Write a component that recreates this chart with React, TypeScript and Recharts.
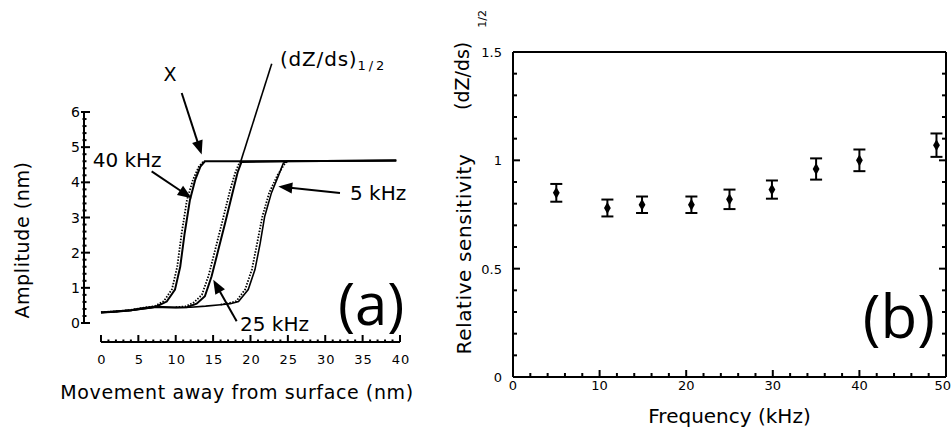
import React from 'react';
import {
  ComposedChart, Line, Scatter, XAxis, YAxis, ZAxis, ErrorBar,
  ReferenceLine, ReferenceDot,
} from 'recharts';

const FONT = '"DejaVu Sans", Verdana, sans-serif';

// ---------- Panel (a): amplitude vs movement ----------
const aXTicks = [0, 1, 2, 3, 4, 5, 6, 7, 8, 9, 10, 11, 12, 13, 14, 15, 16, 17, 18, 19, 20,
  21, 22, 23, 24, 25, 26, 27, 28, 29, 30, 31, 32, 33, 34, 35, 36, 37, 38, 39, 40];
const aXLabels = [0, 5, 10, 15, 20, 25, 30, 35, 40];
const aYTicks = [0, 0.2, 0.4, 0.6, 0.8, 1, 1.2, 1.4, 1.6, 1.8, 2, 2.2, 2.4, 2.6, 2.8, 3,
  3.2, 3.4, 3.6, 3.8, 4, 4.2, 4.4, 4.6, 4.8, 5, 5.2, 5.4, 5.6, 5.8, 6];
const aYLabels = [0, 1, 2, 3, 4, 5, 6];
const A_XMIN = -2.27;
const A_YMIN = -0.54;

const f40SolidX = [0, 2, 4, 5.5, 7.4, 8.8, 9.9, 10.6, 11.2, 11.9, 12.6, 13.3, 13.9, 20, 30, 39.5];
const f40SolidY = [0.3, 0.32, 0.36, 0.42, 0.47, 0.61, 0.95, 1.6, 2.56, 3.5, 4.07, 4.45, 4.6, 4.6, 4.61, 4.62];
const f40DotX = [0, 2, 4, 5.5, 7.2, 8.4, 9.5, 10.2, 10.8, 11.5, 12.3, 13.1, 13.8];
const f40DotY = [0.31, 0.33, 0.37, 0.43, 0.48, 0.62, 0.96, 1.6, 2.56, 3.5, 4.07, 4.45, 4.62];

const f25SolidX = [0, 4, 7.4, 10, 11.5, 12.8, 13.9, 14.8, 15.7, 16.6, 17.7, 18.3, 18.8, 25, 39.5];
const f25SolidY = [0.3, 0.36, 0.46, 0.44, 0.45, 0.55, 0.76, 1.33, 2.08, 2.84, 3.79, 4.3, 4.58, 4.6, 4.62];
const f25DotX = [10, 11.3, 12.4, 13.5, 14.4, 15.3, 16.2, 17.3, 18.0, 18.6];
const f25DotY = [0.45, 0.47, 0.58, 0.8, 1.35, 2.1, 2.86, 3.8, 4.3, 4.6];

const f5SolidX = [0, 4, 7.4, 10, 12, 14, 16, 17.3, 18.4, 19.7, 20.6, 21.3, 21.9, 22.8, 23.7, 24.4, 25, 39.5];
const f5SolidY = [0.3, 0.36, 0.45, 0.44, 0.45, 0.48, 0.52, 0.55, 0.61, 0.95, 1.52, 2.27, 3.03, 3.7, 4.17, 4.55, 4.6, 4.62];
const f5DotX = [16, 17.1, 18.1, 19.3, 20.2, 20.9, 21.6, 22.5, 23.6, 24.5, 24.9];
const f5DotY = [0.52, 0.56, 0.62, 0.96, 1.53, 2.28, 3.04, 3.7, 4.2, 4.5, 4.6];

// ---------- Panel (b): relative sensitivity vs frequency ----------
const bFreq = [5, 10.9, 14.9, 20.6, 25, 29.9, 35, 40, 48.9];
const bSens = [0.85, 0.78, 0.795, 0.795, 0.82, 0.865, 0.96, 1.0, 1.07];
const bErr = [0.041, 0.039, 0.038, 0.038, 0.045, 0.042, 0.049, 0.05, 0.054];
const bXTicks = [0, 2, 4, 6, 8, 10, 12, 14, 16, 18, 20, 22, 24, 26, 28, 30, 32, 34, 36, 38, 40,
  42, 44, 46, 48, 50];
const bXLabels = [0, 10, 20, 30, 40, 50];
const bYTicks = [0, 0.1, 0.2, 0.3, 0.4, 0.5, 0.6, 0.7, 0.8, 0.9, 1, 1.1, 1.2, 1.3, 1.4, 1.5];
const bYLabels = [0, 0.5, 1, 1.5];

const toPts = (xs: number[], ys: number[]) => xs.map((x, i) => ({ x, y: ys[i] }));
const bData = bFreq.map((f, i) => ({ f, s: bSens[i], e: bErr[i] }));

// ---------- tick renderers ----------
const TickAX = (p: any) => {
  const v = p.payload.value;
  const major = aXLabels.includes(v);
  return (
    <g>
      <line x1={p.x} x2={p.x} y1={p.y} y2={p.y - (major ? 7 : 2.5)} stroke="#000" strokeWidth={2} />
      {major && (
        <text x={p.x + 1} y={p.y + 22} textAnchor="middle" fontSize={13} letterSpacing={1}
          fontFamily={FONT} fill="#000">{v}</text>
      )}
    </g>
  );
};
const TickAY = (p: any) => {
  const v = p.payload.value;
  const major = aYLabels.includes(v);
  return (
    <g>
      <line x1={p.x - (major ? 3 : 1.5)} x2={p.x + (major ? 6 : 2.5)} y1={p.y} y2={p.y}
        stroke="#000" strokeWidth={2} />
      {major && (
        <text x={p.x - 4} y={p.y + 5} textAnchor="end" fontSize={14} fontFamily={FONT} fill="#000">{v}</text>
      )}
    </g>
  );
};
const TickBX = (p: any) => {
  const v = p.payload.value;
  const major = bXLabels.includes(v);
  const last = v === bXLabels[bXLabels.length - 1];
  return (
    <g>
      <line x1={p.x} x2={p.x} y1={p.y} y2={p.y - (major ? 7 : 4)} stroke="#000" strokeWidth={2} />
      {major && (
        <text x={last ? p.x + 5 : p.x} y={p.y + 13} textAnchor={last ? 'end' : 'middle'} fontSize={13}
          fontFamily={FONT} fill="#000">{v}</text>
      )}
    </g>
  );
};
const TickBTop = (p: any) => {
  const v = p.payload.value;
  const major = bXLabels.includes(v);
  return <line x1={p.x} x2={p.x} y1={p.y} y2={p.y + (major ? 6 : 3.5)} stroke="#000" strokeWidth={2} />;
};
const TickBY = (p: any) => {
  const v = p.payload.value;
  const major = bYLabels.includes(v);
  return (
    <g>
      <line x1={p.x} x2={p.x + (major ? 7 : 4)} y1={p.y} y2={p.y} stroke="#000" strokeWidth={2} />
      {major && (
        <text x={p.x - 11} y={p.y + 5} textAnchor="end" fontSize={13} fontFamily={FONT} fill="#000">{v}</text>
      )}
    </g>
  );
};
const TickBRight = (p: any) => {
  const v = p.payload.value;
  const major = bYLabels.includes(v);
  return <line x1={p.x} x2={p.x - (major ? 7 : 4)} y1={p.y} y2={p.y} stroke="#000" strokeWidth={2} />;
};

// ---------- annotation helpers ----------
const arrow = (head: boolean, w = 2) => (p: any) => {
  const { x1, y1, x2, y2 } = p;
  const dx = x2 - x1, dy = y2 - y1;
  const L = Math.hypot(dx, dy) || 1;
  const ux = dx / L, uy = dy / L;
  const hl = 14, hw = 5.5;
  const bx = x2 - ux * hl, by = y2 - uy * hl;
  return (
    <g>
      <line x1={x1} y1={y1} x2={head ? bx + ux * 2 : x2} y2={head ? by + uy * 2 : y2} stroke="#000" strokeWidth={w} />
      {head && (
        <polygon points={`${x2},${y2} ${bx - uy * hw},${by + ux * hw} ${bx + uy * hw},${by - ux * hw}`} fill="#000" />
      )}
    </g>
  );
};
const txt = (s: React.ReactNode, size: number, extra: any = {}) => (p: any) => (
  <text x={p.cx} y={p.cy} fontSize={size} fontFamily={FONT} fill="#000" {...extra}>{s}</text>
);

const lineCommon = {
  type: 'linear' as const, dot: false, isAnimationActive: false, stroke: '#000', dataKey: 'y',
  activeDot: false,
};

export default function App() {
  return (
    <div style={{ position: 'absolute', left: 0, top: 0, width: 952, height: 427, background: '#fff' }}>
      {/* Panel (a) */}
      <div style={{ position: 'absolute', left: 0, top: 0 }}>
        <ComposedChart width={952} height={427} margin={{ left: 83, right: 552, top: 112, bottom: 84 }}>
          <XAxis dataKey="x" type="number" domain={[A_XMIN, 40]} allowDataOverflow ticks={aXTicks}
            interval={0} height={1} axisLine={false} tickLine={false} tickSize={0} tickMargin={0}
            tick={TickAX}
            label={{
              content: (lp: any) => {
                const vb = lp.viewBox || {};
                return (
                  <text x={vb.x + vb.width / 2 - 5} y={vb.y + 57} textAnchor="middle" fontSize={19}
                    letterSpacing={0.6} fontFamily={FONT} fill="#000">Movement away from surface (nm)</text>
                );
              },
            }}
          />
          <YAxis type="number" domain={[A_YMIN, 6]} allowDataOverflow ticks={aYTicks} interval={0}
            width={1} axisLine={false} tickLine={false} tickSize={0} tickMargin={0} tick={TickAY}
            label={{
              content: (lp: any) => {
                const vb = lp.viewBox || {};
                const x = vb.x - 54, y = 240;
                return (
                  <text x={x} y={y} transform={`rotate(-90, ${x}, ${y})`} textAnchor="middle" fontSize={19}
                    letterSpacing={0.6} fontFamily={FONT} fill="#000">Amplitude (nm)</text>
                );
              },
            }}
          />
          <ReferenceLine segment={[{ x: A_XMIN, y: 0 }, { x: A_XMIN, y: 6 }]} stroke="#000" strokeWidth={2} ifOverflow="visible" />
          <ReferenceLine segment={[{ x: 0, y: A_YMIN }, { x: 40, y: A_YMIN }]} stroke="#000" strokeWidth={2} ifOverflow="visible" />

          <Line {...lineCommon} data={toPts(f40DotX, f40DotY)} strokeWidth={1.8} strokeDasharray="1.5 1.5" />
          <Line {...lineCommon} data={toPts(f25DotX, f25DotY)} strokeWidth={1.8} strokeDasharray="1.5 1.5" />
          <Line {...lineCommon} data={toPts(f5DotX, f5DotY)} strokeWidth={1.8} strokeDasharray="1.5 1.5" />
          <Line {...lineCommon} data={toPts(f40SolidX, f40SolidY)} strokeWidth={2} />
          <Line {...lineCommon} data={toPts(f25SolidX, f25SolidY)} strokeWidth={2} />
          <Line {...lineCommon} data={toPts(f5SolidX, f5SolidY)} strokeWidth={1.6} />

          <ReferenceLine segment={[{ x: 10.8, y: 6.54 }, { x: 13.47, y: 4.79 }]} ifOverflow="visible" shape={arrow(true)} />
          <ReferenceLine segment={[{ x: 6.78, y: 4.31 }, { x: 12.13, y: 3.55 }]} ifOverflow="visible" shape={arrow(true)} />
          <ReferenceLine segment={[{ x: 31.97, y: 3.7 }, { x: 23.72, y: 3.88 }]} ifOverflow="visible" shape={arrow(true)} />
          <ReferenceLine segment={[{ x: 18.15, y: 0.05 }, { x: 15.02, y: 1.23 }]} ifOverflow="visible" shape={arrow(true)} />
          <ReferenceLine segment={[{ x: 22.84, y: 7.37 }, { x: 18.6, y: 4.53 }]} ifOverflow="visible" shape={arrow(false, 1.6)} />

          <ReferenceDot x={8.36} y={6.87} ifOverflow="visible" shape={txt('X', 19)} />
          <ReferenceDot x={23.95} y={7.3} ifOverflow="visible"
            shape={txt(<>
              <tspan letterSpacing={0.8}>(dZ/ds)</tspan>
              <tspan fontSize={13} dy={4} letterSpacing={3}>1/2</tspan>
            </>, 20)} />
          <ReferenceDot x={-1.11} y={4.44} ifOverflow="visible" shape={txt('40 kHz', 20)} />
          <ReferenceDot x={33.31} y={3.51} ifOverflow="visible" shape={txt('5 kHz', 20)} />
          <ReferenceDot x={18.6} y={-0.22} ifOverflow="visible" shape={txt('25 kHz', 20)} />
          <ReferenceDot x={31.7} y={-0.05} ifOverflow="visible"
            shape={txt('(a)', 58, { fontFamily: '"Open Sans", sans-serif' })} />
        </ComposedChart>
      </div>

      {/* Panel (b) */}
      <div style={{ position: 'absolute', left: 0, top: 0 }}>
        <ComposedChart width={952} height={427} margin={{ left: 512, right: 5, top: 51, bottom: 49 }}>
          <XAxis xAxisId="b" dataKey="f" type="number" domain={[0, 50]} allowDataOverflow ticks={bXTicks}
            interval={0} height={1} axisLine={{ stroke: '#000', strokeWidth: 2 }} tickLine={false}
            tickSize={0} tickMargin={0} tick={TickBX}
            label={{
              content: (lp: any) => {
                const vb = lp.viewBox || {};
                return (
                  <text x={vb.x + vb.width / 2} y={vb.y + 46} textAnchor="middle" fontSize={20}
                    fontFamily={FONT} fill="#000">Frequency (kHz)</text>
                );
              },
            }}
          />
          <XAxis xAxisId="t" orientation="top" type="number" domain={[0, 50]} allowDataOverflow ticks={bXTicks}
            interval={0} height={1} axisLine={{ stroke: '#000', strokeWidth: 2 }} tickLine={false}
            tickSize={0} tickMargin={0} tick={TickBTop} />
          <YAxis yAxisId="l" dataKey="s" type="number" domain={[0, 1.5]} allowDataOverflow ticks={bYTicks}
            interval={0} width={1} axisLine={{ stroke: '#000', strokeWidth: 2 }} tickLine={false}
            tickSize={0} tickMargin={0} tick={TickBY}
            label={{
              content: (lp: any) => {
                const vb = lp.viewBox || {};
                const x1 = vb.x - 41, y1 = 254;
                const x2 = vb.x - 43, y2 = 110;
                return (
                  <g>
                    <text x={x1} y={y1} transform={`rotate(-90, ${x1}, ${y1})`} textAnchor="middle" fontSize={20}
                      letterSpacing={0.6} fontFamily={FONT} fill="#000">Relative sensitivity</text>
                    <text x={x2} y={y2} transform={`rotate(-90, ${x2}, ${y2})`} textAnchor="start" fontSize={19}
                      fontFamily={FONT} fill="#000">
                      (dZ/ds)<tspan fontSize={11} dx={14} dy={17}>1/2</tspan>
                    </text>
                  </g>
                );
              },
            }}
          />
          <YAxis yAxisId="r" orientation="right" type="number" domain={[0, 1.5]} allowDataOverflow ticks={bYTicks}
            interval={0} width={1} axisLine={{ stroke: '#000', strokeWidth: 2 }} tickLine={false}
            tickSize={0} tickMargin={0} tick={TickBRight} />
          <ZAxis range={[40, 40]} />
          <Scatter xAxisId="b" yAxisId="l" data={bData} dataKey="s" shape="diamond" fill="#000"
            isAnimationActive={false}>
            <ErrorBar dataKey="e" direction="y" width={6} stroke="#000" strokeWidth={2} isAnimationActive={false} />
          </Scatter>
          <ReferenceDot xAxisId="b" yAxisId="l" x={40.4} y={0.18} ifOverflow="visible"
            shape={txt('(b)', 60, { fontFamily: '"Open Sans", sans-serif' })} />
        </ComposedChart>
      </div>
    </div>
  );
}
